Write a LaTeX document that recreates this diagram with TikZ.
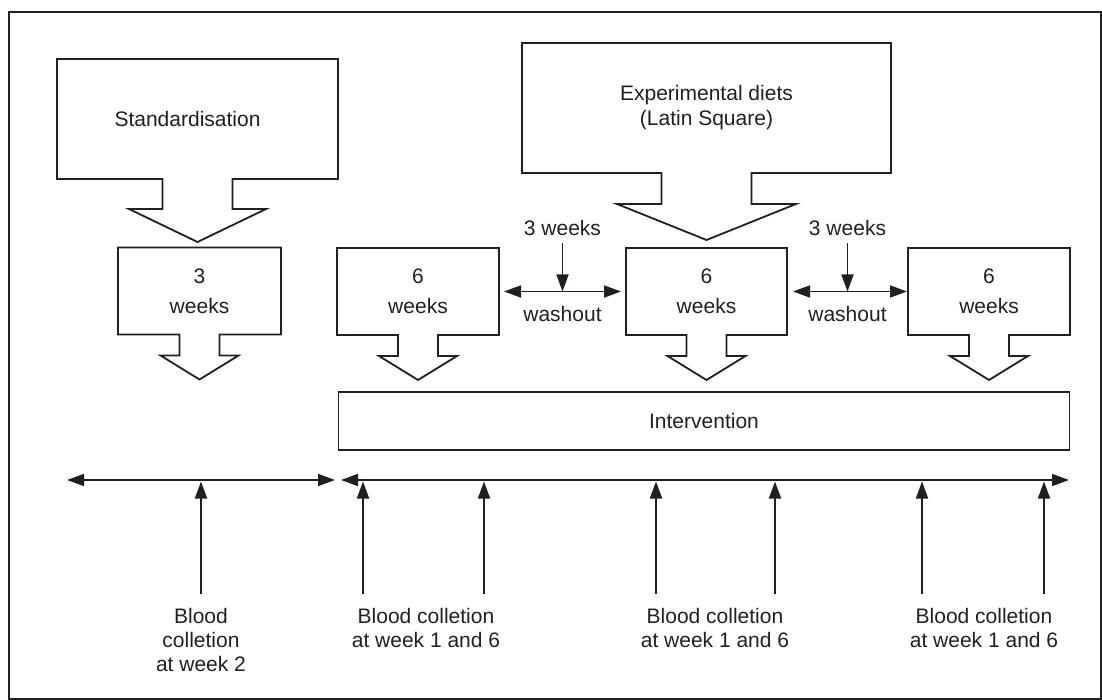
\documentclass[tikz,border=0pt]{standalone}
\usepackage{fontspec}
\setmainfont{Liberation Sans}
\usetikzlibrary{arrows.meta,positioning,calc}
\definecolor{Ink}{HTML}{231F20}
\tikzset{
  outline/.style={draw=Ink, line width=1.8pt, line join=miter},
  blockbox/.style={inner sep=0pt, outer sep=0pt, align=center, text=Ink, font=\fontsize{21}{25}\selectfont},
  weekbox/.style={blockbox, font=\fontsize{21}{30}\selectfont, minimum height=87pt},
  lbl/.style={text=Ink, align=center, inner sep=3pt, font=\fontsize{21}{24}\selectfont},
  arr/.style={-{Triangle[length=17pt,width=12pt]}, draw=Ink, line width=1.8pt},
  dblarr/.style={{Triangle[length=17pt,width=12pt]}-{Triangle[length=17pt,width=12pt]}, draw=Ink, line width=1.8pt}
}
% box with a block arrow under it: node, stem half width, head half width, stem length, head length
\newcommand{\blockarrow}[5]{%
  \draw[outline] ($(#1.south)+(-#2,0)$) -- (#1.south west) -- (#1.north west)
    -- (#1.north east) -- (#1.south east) -- ($(#1.south)+(#2,0)$)
    -- ($(#1.south)+(#2,#4)$) -- ($(#1.south)+(#3,#4)$)
    -- ($(#1.south)+(0,{#4+#5})$) -- ($(#1.south)+(-#3,#4)$)
    -- ($(#1.south)+(-#2,#4)$) -- cycle;
}

\begin{document}
\begin{tikzpicture}[x=1pt,y=-1pt]
\useasboundingbox (0,0) rectangle (1102,700);
\draw[draw=Ink, line width=1.2pt] (9,12) rectangle (1101,699);

% top boxes
\node[blockbox, minimum width=281pt, minimum height=120pt] (std) at (197.5,119) {\hspace*{-20pt}\raisebox{-5pt}{Standardisation}};
\blockarrow{std}{35}{68.5}{30}{33}
\node[blockbox, minimum width=369pt, minimum height=130pt] (diets) at (706.5,108) {Experimental diets\\(Latin Square)};
\blockarrow{diets}{45}{89.5}{31}{36}

% periods
\node[weekbox, minimum width=163pt] (wk3) at (199.5,291) {3\\weeks};
\blockarrow{wk3}{20}{39}{21}{24}
\node[weekbox, minimum width=162pt] (wk6a) at (418,291.5) {6\\weeks};
\blockarrow{wk6a}{20}{39}{21}{24}
\node[weekbox, minimum width=161pt] (wk6b) at (706.5,291.5) {6\\weeks};
\blockarrow{wk6b}{20}{39}{21}{24}
\node[weekbox, minimum width=162pt] (wk6c) at (989,291.5) {6\\weeks};
\blockarrow{wk6c}{20}{39}{21}{24}

% washout
\draw[dblarr, shorten <=5pt, shorten >=5pt] (wk6a.east) -- coordinate (wo1) (wk6b.west);
\draw[dblarr, shorten <=6pt, shorten >=1pt] (wk6b.east) -- coordinate (wo2) (wk6c.west);
\node[lbl, above=53pt of wo1] (gap1) {3 weeks};
\node[lbl, above=53pt of wo2] (gap2) {3 weeks};
\draw[arr, shorten <=5pt] (gap1) -- (wo1);
\draw[arr, shorten <=5pt] (gap2) -- (wo2);
\node[lbl, below=12pt of wo1] (wash1) {washout};
\node[lbl, below=12pt of wo2] (wash2) {washout};

\node[blockbox, outline, minimum width=731pt, minimum height=58pt] (interv) at (704,421) {Intervention};

% time line
\coordinate (tl0) at (67,480);
\coordinate (tl1) at (335,480);
\coordinate (tr0) at (341,480);
\coordinate (tr1) at (1069,480);
\draw[dblarr] (tl0) -- (tl1);
\draw[dblarr] (tr0) -- (tr1);
\foreach \x/\n in {201/a,363/b,484/c,656/d,775/e,922/f,1044/g}{
  \coordinate (up\n) at (\x,594);
  \draw[arr, shorten >=1.5pt] (up\n) -- (up\n |- tr0);
}

\node[lbl, anchor=north] (bc1) at (201,605) {Blood\\colletion\\at week 2};
\node[lbl, anchor=north] (bc2) at (426,605) {Blood colletion\\at week 1 and 6};
\node[lbl, anchor=north] (bc3) at (715,605) {Blood colletion\\at week 1 and 6};
\node[lbl, anchor=north] (bc4) at (984,605) {Blood colletion\\at week 1 and 6};
\end{tikzpicture}
\end{document}
